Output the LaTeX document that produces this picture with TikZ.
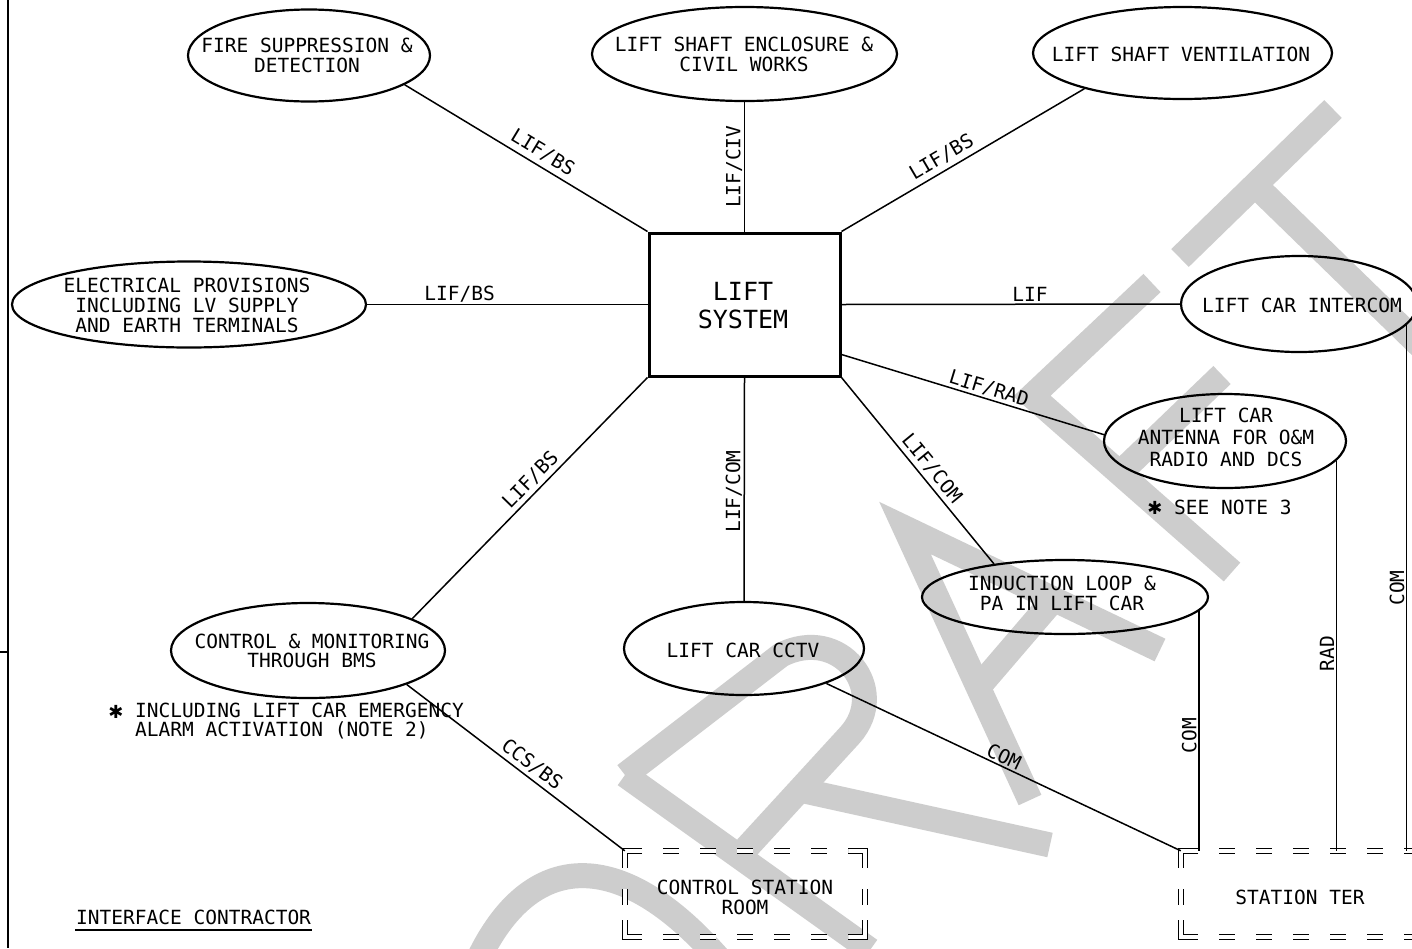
\documentclass[tikz,border=0pt]{standalone}
\usepackage{fontspec}
\newfontfamily\cad{DejaVu Sans Mono}
\newfontfamily\dvs{DejaVu Sans}
\usetikzlibrary{shapes.geometric,calc}
\definecolor{wm}{RGB}{205,205,205}
\newcommand\mydframe[4]{%
  \draw[dfr] (#1+17,#2) -- (#1,#2) -- (#1,#2+17);
  \draw[dfr] (#3-17,#2) -- (#3,#2) -- (#3,#2+17);
  \draw[dfr] (#1,#4-17) -- (#1,#4) -- (#1+17,#4);
  \draw[dfr] (#3,#4-17) -- (#3,#4) -- (#3-17,#4);
  \draw[dfr, dash pattern=on 16pt off 21pt, dash phase=16pt] (#1+17,#2) -- (#3-17,#2);
  \draw[dfr, dash pattern=on 16pt off 21pt, dash phase=16pt] (#1+17,#4) -- (#3-17,#4);
  \draw[dfr, dash pattern=on 16pt off 21pt, dash phase=16pt] (#1,#2+17) -- (#1,#4-17);
  \draw[dfr, dash pattern=on 16pt off 21pt, dash phase=16pt] (#3,#2+17) -- (#3,#4-17);
}
\begin{document}
\begin{tikzpicture}[x=1pt,y=-1pt,
  conn/.style={line width=1.5pt},
  oval/.style={ellipse, draw, line width=2.2pt, inner sep=0pt},
  txt/.style={font=\cad\fontsize{19.5}{20}\selectfont, align=center, inner sep=0pt},
  lbl/.style={font=\cad\fontsize{19.5}{20}\selectfont, inner sep=1.5pt},
  wmk/.style={line width=25pt, draw=wm},
  dfr/.style={draw, double, double distance=3.5pt, line width=1.3pt, line join=miter},
  hidden/.style={inner sep=0pt, draw=none},
  star/.style={font=\dvs\fontsize{18}{18}\selectfont, inner sep=0pt}]
\useasboundingbox (0,0) rectangle (1412,948);
\fill[white] (0,0) rectangle (1412,948);

% DRAFT watermark
\path[wmk] (1180,258) -- (1333,109);
\path[wmk] (1255,185) -- (1440,365);
\path[wmk] (1152,283) -- (1032,396) -- (1232,572);
\path[wmk] (1120,473) -- (1222,375);
\path[wmk] (1030,800) -- (905,528) -- (1160,650);
\path[wmk] (976,690) -- (1054,599);
\path[wmk] (625,775) -- (870,950);
\path[wmk] (625,775) -- (781,655) .. controls (840,625) and (890,690) .. (850,735) -- (740,855);
\path[wmk] (800,790) -- (1050,845);
\path[wmk] (478,960) .. controls (530,850) and (620,845) .. (720,960);

% left border
\draw[line width=2pt] (8,0) -- (8,948);
\draw[line width=1.5pt] (0,652) -- (8,652);

% central box
\node[draw, line width=3pt, minimum width=191pt, minimum height=143pt, inner sep=0pt] (ls) at (744.5,304.5) {};
\node[font=\cad\fontsize{25}{28}\selectfont, align=center, inner sep=0pt] (ls-t) at (743,306) {LIFT\\SYSTEM};

% ellipses
\node[oval, minimum width=242pt, minimum height=92pt] (fire) at (309,55.5) {};
\node[txt] (fire-t) at (307,55.5) {FIRE SUPPRESSION \&\\DETECTION};
\node[oval, minimum width=305pt, minimum height=94pt] (civ) at (744.5,54) {};
\node[txt] (civ-t) at (744,54.5) {LIFT SHAFT ENCLOSURE \&\\CIVIL WORKS};
\node[oval, minimum width=299pt, minimum height=92pt] (vent) at (1182.5,53) {};
\node[txt] (vent-t) at (1181,54.5) {LIFT SHAFT VENTILATION};
\node[oval, minimum width=354pt, minimum height=86pt] (elec) at (189,304.5) {};
\node[txt] (elec-t) at (187,305) {ELECTRICAL PROVISIONS\\INCLUDING LV SUPPLY\\AND EARTH TERMINALS};
\node[oval, minimum width=236pt, minimum height=96pt] (icom) at (1299,304) {};
\node[txt] (icom-t) at (1302,305) {LIFT CAR INTERCOM};
\node[oval, minimum width=242pt, minimum height=94pt] (ant) at (1225,441) {};
\node[txt, font=\cad\fontsize{19.5}{22}\selectfont] (ant-t) at (1226,437.5) {LIFT CAR\\ANTENNA FOR O\&M\\RADIO AND DCS};
\node[oval, minimum width=286pt, minimum height=74pt] (ind) at (1065,597) {};
\node[txt] (ind-t) at (1062,593) {INDUCTION LOOP \&\\PA IN LIFT CAR};
\node[oval, minimum width=274pt, minimum height=95pt] (ctrl) at (308,650.5) {};
\node[txt, font=\cad\fontsize{19.5}{19}\selectfont] (ctrl-t) at (312,650.5) {CONTROL \& MONITORING\\THROUGH BMS};
\node[oval, minimum width=240pt, minimum height=93pt] (cctv) at (744,648.5) {};
\node[txt] (cctv-t) at (743,650) {LIFT CAR CCTV};

% double dashed rooms
\node[hidden, minimum width=240pt, minimum height=86pt] (csr) at (745,894) {};
\mydframe{625}{851}{865}{937}
\node[txt] (csr-t) at (745,897.5) {CONTROL STATION\\ROOM};
\node[hidden, minimum width=244pt, minimum height=86pt] (str) at (1303,894) {};
\mydframe{1181}{851}{1425}{937}
\node[txt] (str-t) at (1300,897.5) {STATION TER};

% notes
\node[star] (ast1) at (116,711.5) {✱};
\node[txt, align=left, anchor=north west, font=\cad\fontsize{19.5}{18.5}\selectfont] (note1) at (135,703) {INCLUDING LIFT CAR EMERGENCY\\ALARM ACTIVATION (NOTE 2)};
\node[star] (ast2) at (1155,508) {✱};
\node[txt, anchor=west] (note3) at (1174,507.5) {SEE NOTE 3};
\node[txt, anchor=west] (ic) at (76,917.5) {INTERFACE CONTRACTOR};
\draw[line width=1.2pt] ($(ic.south west)+(-1,5)$) -- ($(ic.south east)+(1,5)$);

% connectors
\draw[conn] (fire.-17) -- node[lbl, sloped, above=3pt, pos=0.54]{LIF/BS} (ls.north west);
\draw[conn] (ls.north) -- node[lbl, sloped, above, pos=0.5]{LIF/CIV} (civ.south);
\draw[conn] (ls.north east) -- node[lbl, sloped, above=3pt, pos=0.44]{LIF/BS} (vent.-160);
\draw[conn] (elec.east) -- node[lbl, above, pos=0.33]{LIF/BS} (ls.west);
\draw[conn] (ls.east) -- node[lbl, above, pos=0.557]{LIF} (icom.west);
\coordinate (lsr) at ($(ls.south east)+(0,-23)$);
\draw[conn] (lsr) -- node[lbl, sloped, above, pos=0.55]{LIF/RAD} (ant.177);
\draw[conn] (ls.south east) -- node[lbl, sloped, above=2pt, pos=0.53]{LIF/COM} (ind.155);
\draw[conn] (cctv.north) -- node[lbl, sloped, above, pos=0.49]{LIF/COM} (ls.south);
\draw[conn] (ctrl.17) -- node[lbl, sloped, above=2pt, pos=0.54]{LIF/BS} (ls.south west);
\draw[conn] (ctrl.-19) -- node[lbl, sloped, above=2pt, pos=0.54]{CCS/BS} (csr.north west);
\draw[conn] (cctv.-23) -- node[lbl, sloped, above, pos=0.49]{COM} (str.north west);
\draw[conn] (ind.-6.4 |- str.north) -- node[lbl, sloped, above, pos=0.48]{COM} (ind.-6.4);
\draw[conn] (ant.-10 |- str.north) -- node[lbl, sloped, above, pos=0.505]{RAD} (ant.-10);
\draw[conn] (icom.-11 |- str.north) -- node[lbl, sloped, above, pos=0.5]{COM} (icom.-11);
\end{tikzpicture}
\end{document}
